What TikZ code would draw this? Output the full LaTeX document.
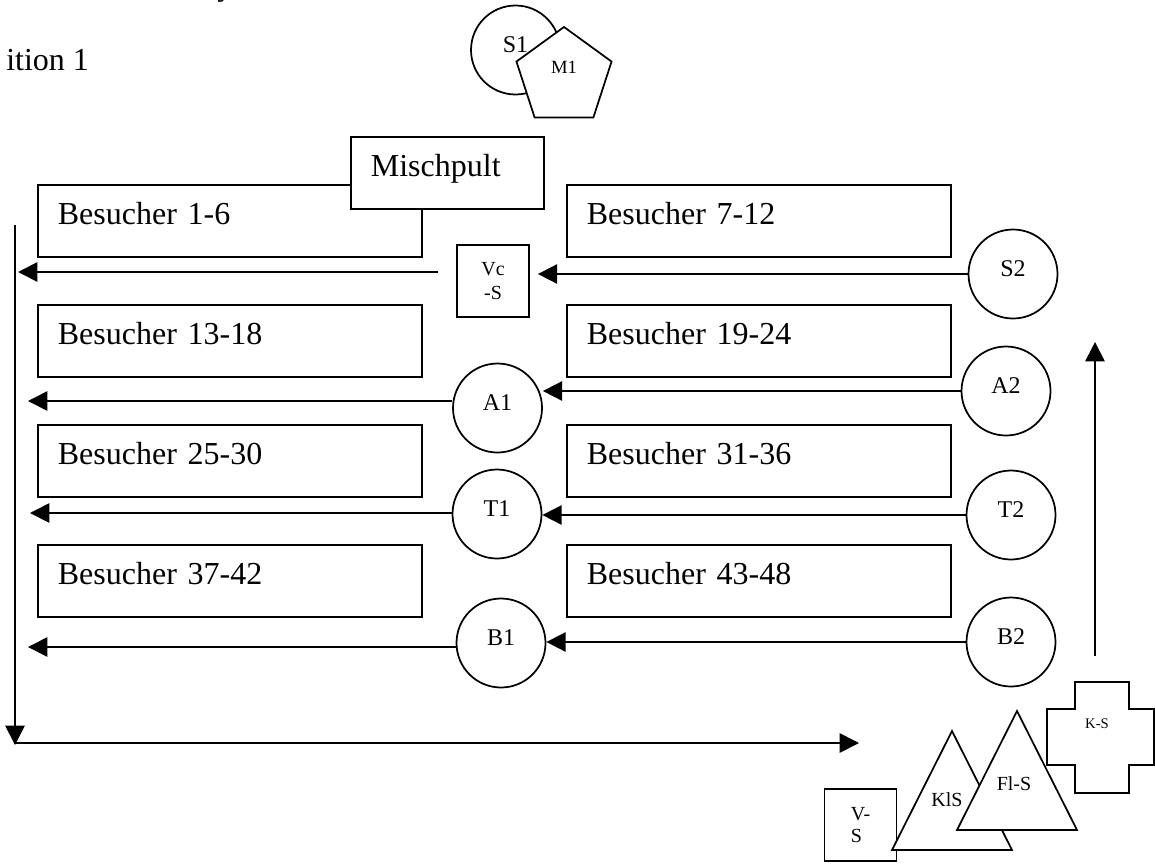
\documentclass[tikz,border=0pt]{standalone}
\usepackage{fontspec}
\setmainfont{Liberation Serif}
\usetikzlibrary{arrows.meta,shapes.geometric,calc}

\begin{document}
\begin{tikzpicture}[x=0.75pt, y=-0.75pt, line width=1.3pt,
    guestbox/.style={rectangle, draw, fill=white, anchor=north west,
                     minimum height=54pt, inner xsep=15pt, text width=258pt, align=left,
                     text height=16.5pt, text depth=10.5pt,
                     font=\fontsize{24}{28}\selectfont},
    posnode/.style={circle, draw, fill=white, minimum size=66.75pt, inner sep=0pt,
                    text height=12pt, text depth=9pt,
                    font=\fontsize{18}{20}\selectfont},
    sqbox/.style={rectangle, draw, fill=white, minimum size=54pt, inner sep=0pt,
                  align=center, font=\fontsize{15}{18}\selectfont},
    arr/.style={-{Triangle[length=14.5pt, width=14.5pt]}}
  ]
    \useasboundingbox (0,0) rectangle (1155,864);

    % Heading (cut off)
    \node[anchor=base west, font=\fontsize{24}{28}\selectfont] (topy) at (212,-5) {y};
    \node[anchor=base west, font=\fontsize{24}{28}\selectfont] (title) at (1,70) {ition 1};

    % Stage
    \node[posnode] (s1) at (515.5,50) {S1};
    \node[regular polygon, regular polygon sides=5, draw, fill=white, minimum size=75pt,
          inner sep=0pt, text height=9.3pt, text depth=15.3pt,
          font=\fontsize{14}{16}\selectfont] (m1) at (564,77) {M1};

    % Visitor blocks
    \node[guestbox] (g1) at (37,184)  {Besucher 1-6};
    \node[guestbox] (g2) at (566,184) {Besucher 7-12};
    \node[guestbox] (g3) at (37,304)  {Besucher 13-18};
    \node[guestbox] (g4) at (566,304) {Besucher 19-24};
    \node[guestbox] (g5) at (37,424)  {Besucher 25-30};
    \node[guestbox] (g6) at (566,424) {Besucher 31-36};
    \node[guestbox] (g7) at (37,544)  {Besucher 37-42};
    \node[guestbox] (g8) at (566,544) {Besucher 43-48};

    % Mixing desk
    \node[guestbox, text width=114.75pt] (mix) at (350,136) {Mischpult};

    % Positions between the rows
    \node[sqbox] (vcs) at (493,281) {Vc\\-S};
    \node[posnode] (s2) at (1013,274) {S2};
    \node[posnode] (a1) at (497.5,408) {A1};
    \node[posnode] (a2) at (1006,391) {A2};
    \node[posnode] (t1) at (497,514) {T1};
    \node[posnode] (t2) at (1011,515) {T2};
    \node[posnode] (b1) at (501,643) {B1};
    \node[posnode] (b2) at (1011,642) {B2};

    % Row arrows
    \coordinate (e1) at (438,272);
    \coordinate (w1) at (18,272);
    \coordinate (w2) at (28,401);
    \coordinate (w3) at (30,513);
    \coordinate (w4) at (28,647);
    \draw[arr, shorten >=6pt] (s2.west) -- (s2.west -| vcs.east);
    \draw[arr] (e1) -- (w1);
    \draw[arr] (a2.west) -- (a2.west -| a1.east);
    \draw[arr] (a1.west |- w2) -- (w2);
    \draw[arr] (t2.west) -- (t2.west -| t1.east);
    \draw[arr] (t1.west |- w3) -- (w3);
    \draw[arr] (b2.west) -- (b2.west -| b1.east);
    \draw[arr] (b1.west |- w4) -- (w4);

    % Walkway round the hall
    \coordinate (ltop) at (15,225);
    \coordinate (lbot) at (15,745);
    \coordinate (bend) at (859,743);
    \coordinate (rbot) at (1095,656);
    \coordinate (rtop) at (1095,342);
    \draw[arr] (ltop) -- (lbot);
    \draw[arr] (ltop |- bend) -- (bend);
    \draw[arr] (rbot) -- (rtop);

    % Bottom right corner
    \node[sqbox, align=left, font=\fontsize{15}{16}\selectfont] (vs) at (860.5,825) {V-\\S};
    \draw[fill=white] (892,850) -- (952,731) -- (1012,850) -- cycle;
    \node[font=\fontsize{15}{18}\selectfont] (kls) at (947,800) {KlS};
    \draw[fill=white] (957,830) -- (1017,711) -- (1077,830) -- cycle;
    \node[font=\fontsize{15}{18}\selectfont] (fls) at (1014,784) {Fl-S};
    \draw[fill=white] (1075,682) -- (1129,682) -- (1129,709) -- (1154,709) -- (1154,765)
      -- (1129,765) -- (1129,793) -- (1075,793) -- (1075,765) -- (1047,765)
      -- (1047,709) -- (1075,709) -- cycle;
    \node[font=\fontsize{11}{13}\selectfont] (ks) at (1097,724) {K-S};
  \end{tikzpicture}
\end{document}
